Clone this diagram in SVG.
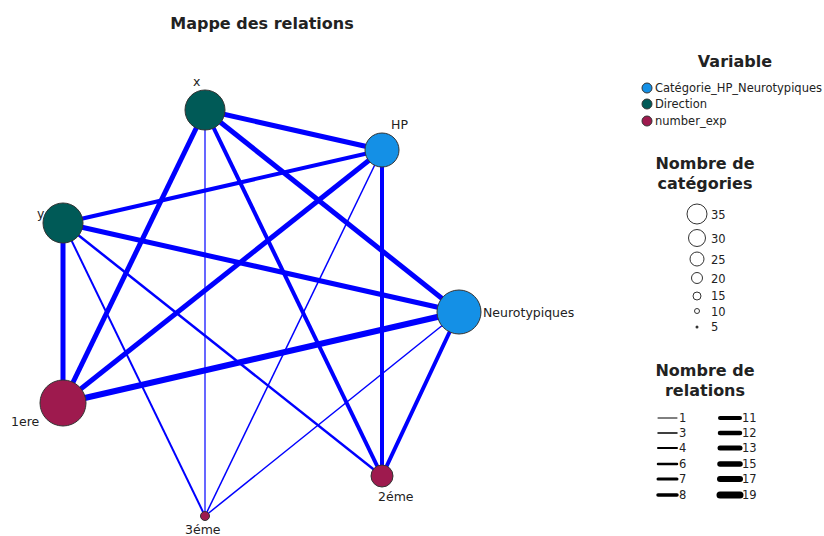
<svg xmlns="http://www.w3.org/2000/svg" width="824" height="536" viewBox="0 0 824 536">
<style>
text{font-family:"DejaVu Sans","Liberation Sans",sans-serif;fill:#222}
.t{font-size:16px;font-weight:bold;text-anchor:middle}
.l{font-size:12.5px}
.s{font-size:11.5px}
.e{stroke:#0000ff;fill:none}
.d{fill:#005a57;stroke:#333;stroke-width:1}
.b{fill:#1490e6;stroke:#333;stroke-width:1}
.m{fill:#9e1a4e;stroke:#333;stroke-width:1}
.lc{fill:none;stroke:#333;stroke-width:1}
.ll{stroke:#000;stroke-linecap:round}
</style>
<rect width="824" height="536" fill="#fff"/>
<text class="t" x="262" y="29">Mappe des relations</text>
<g id="connectors">
<line class="e" x1="205" y1="110" x2="382" y2="150" stroke-width="5"/>
<line class="e" x1="205" y1="110" x2="63" y2="403" stroke-width="5"/>
<line class="e" x1="205" y1="110" x2="205" y2="516" stroke-width="1.2"/>
<line class="e" x1="205" y1="110" x2="382" y2="476" stroke-width="4"/>
<line class="e" x1="205" y1="110" x2="459" y2="312" stroke-width="5"/>
<line class="e" x1="382" y1="150" x2="63" y2="223" stroke-width="4"/>
<line class="e" x1="382" y1="150" x2="63" y2="403" stroke-width="5"/>
<line class="e" x1="382" y1="150" x2="205" y2="516" stroke-width="1.5"/>
<line class="e" x1="382" y1="150" x2="382" y2="476" stroke-width="4"/>
<line class="e" x1="63" y1="223" x2="459" y2="312" stroke-width="5"/>
<line class="e" x1="63" y1="223" x2="63" y2="403" stroke-width="5"/>
<line class="e" x1="63" y1="223" x2="205" y2="516" stroke-width="2"/>
<line class="e" x1="63" y1="223" x2="382" y2="476" stroke-width="2.5"/>
<line class="e" x1="63" y1="403" x2="459" y2="312" stroke-width="6"/>
<line class="e" x1="459" y1="312" x2="205" y2="516" stroke-width="1.5"/>
<line class="e" x1="459" y1="312" x2="382" y2="476" stroke-width="4"/>
</g>
<g id="node-x"><circle class="d" cx="205" cy="110" r="20"/><text class="l" x="193" y="86">x</text></g>
<g id="node-HP"><circle class="b" cx="382" cy="150" r="17"/><text class="l" x="391" y="129">HP</text></g>
<g id="node-y"><circle class="d" cx="63" cy="223" r="20"/><text class="l" x="37" y="218">y</text></g>
<g id="node-Neurotypiques"><circle class="b" cx="459" cy="312" r="22"/><text class="l" x="483" y="317">Neurotypiques</text></g>
<g id="node-1ere"><circle class="m" cx="63" cy="403" r="23"/><text class="l" x="11" y="426">1ere</text></g>
<g id="node-2eme"><circle class="m" cx="382" cy="476" r="11"/><text class="l" x="378" y="501">2éme</text></g>
<g id="node-3eme"><circle class="m" cx="205" cy="516" r="4.5"/><text class="l" x="185" y="534">3éme</text></g>
<g id="legend-variable">
<text class="t" x="735" y="67">Variable</text>
<circle class="b" cx="647" cy="88" r="5"/><text class="s" x="655" y="92">Catégorie_HP_Neurotypiques</text>
<circle class="d" cx="647" cy="104" r="5"/><text class="s" x="655" y="108">Direction</text>
<circle class="m" cx="647" cy="121" r="5"/><text class="s" x="655" y="125">number_exp</text>
</g>
<g id="legend-categories">
<text class="t" x="705" y="169">Nombre de</text>
<text class="t" x="705" y="189">catégories</text>
<circle class="lc" cx="697" cy="214" r="10"/><text class="s" x="711" y="219">35</text>
<circle class="lc" cx="697" cy="238" r="8.5"/><text class="s" x="711" y="243">30</text>
<circle class="lc" cx="697" cy="259" r="7"/><text class="s" x="711" y="264">25</text>
<circle class="lc" cx="697" cy="278" r="5.5"/><text class="s" x="711" y="283">20</text>
<circle class="lc" cx="697" cy="296" r="4"/><text class="s" x="711" y="300">15</text>
<circle class="lc" cx="697" cy="311" r="2.5"/><text class="s" x="711" y="316">10</text>
<circle cx="697" cy="327" r="1.5" fill="#333"/><text class="s" x="711" y="331">5</text>
</g>
<g id="legend-relations">
<text class="t" x="705" y="376">Nombre de</text>
<text class="t" x="705" y="396">relations</text>
<line class="ll" x1="658" y1="418" x2="677" y2="418" stroke-width="1"/><text class="s" x="679" y="422">1</text>
<line class="ll" x1="658" y1="433" x2="677" y2="433" stroke-width="1.5"/><text class="s" x="679" y="437">3</text>
<line class="ll" x1="658" y1="448" x2="677" y2="448" stroke-width="2"/><text class="s" x="679" y="452">4</text>
<line class="ll" x1="658" y1="464" x2="677" y2="464" stroke-width="2.5"/><text class="s" x="679" y="468">6</text>
<line class="ll" x1="658" y1="479" x2="677" y2="479" stroke-width="3"/><text class="s" x="679" y="483">7</text>
<line class="ll" x1="658" y1="495" x2="677" y2="495" stroke-width="3.5"/><text class="s" x="679" y="499">8</text>
<line class="ll" x1="720" y1="418" x2="740" y2="418" stroke-width="4"/><text class="s" x="742" y="422">11</text>
<line class="ll" x1="720" y1="433" x2="740" y2="433" stroke-width="4.5"/><text class="s" x="742" y="437">12</text>
<line class="ll" x1="720" y1="448" x2="740" y2="448" stroke-width="5"/><text class="s" x="742" y="452">13</text>
<line class="ll" x1="720" y1="464" x2="740" y2="464" stroke-width="5.5"/><text class="s" x="742" y="468">15</text>
<line class="ll" x1="720" y1="479" x2="740" y2="479" stroke-width="6"/><text class="s" x="742" y="483">17</text>
<line class="ll" x1="720" y1="495" x2="740" y2="495" stroke-width="7"/><text class="s" x="742" y="499">19</text>
</g>
</svg>
